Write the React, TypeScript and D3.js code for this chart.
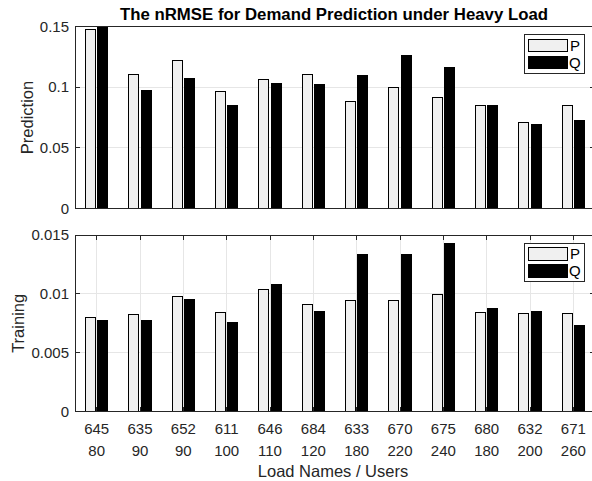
import React from "react";
import * as d3 from "d3";

const loadNames = ["645", "635", "652", "611", "646", "684", "633", "670", "675", "680", "632", "671"];
const users = ["80", "90", "90", "100", "110", "120", "180", "220", "240", "180", "200", "260"];
const predP = [0.148, 0.1107, 0.1222, 0.0966, 0.1065, 0.1104, 0.0884, 0.0999, 0.0917, 0.0851, 0.0707, 0.0853];
const predQ = [0.152, 0.0971, 0.1076, 0.0848, 0.1027, 0.1021, 0.1093, 0.1266, 0.1167, 0.0845, 0.0696, 0.0729];
const trainP = [0.00801, 0.00827, 0.00982, 0.00838, 0.01041, 0.00906, 0.00945, 0.00948, 0.00999, 0.00846, 0.00835, 0.00835];
const trainQ = [0.00776, 0.00772, 0.00951, 0.00756, 0.01081, 0.00852, 0.01336, 0.01336, 0.01424, 0.00872, 0.00849, 0.00733];
const predTicks = [0, 0.05, 0.1, 0.15];
const predTickLabels = ["0", "0.05", "0.1", "0.15"];
const trainTicks = [0, 0.005, 0.01, 0.015];
const trainTickLabels = ["0", "0.005", "0.01", "0.015"];
const seriesNames = ["P", "Q"];

const W = 592;
const H = 481;
const L = 75;
const R = 595;
const AX = "#262626";
const GRID = "#e6e6e6";
const PFILL = "#f0f0f0";
const FONT = "'Liberation Sans', Arial, Helvetica, sans-serif";

const x = d3.scaleLinear().domain([0.5, 12.5]).range([L, R]);
const barW = x(0.229) - x(0);
const off = 0.143;

function Panel({ id, top, bottom, yMax, ticks, tickLabels, pVals, qVals, label, labelX, xTicks }: any) {
  const y = d3.scaleLinear().domain([0, yMax]).range([bottom, top]);
  const idx = d3.range(loadNames.length);
  const legTop = top + 8;
  return (
    <g>
      <defs>
        <clipPath id={id}>
          <rect x={L} y={top} width={R - L} height={bottom - top} />
        </clipPath>
      </defs>
      {ticks.slice(1, -1).map((t: number) => (
        <line key={"g" + t} x1={L} x2={R} y1={y(t)} y2={y(t)} stroke={GRID} strokeWidth={1} />
      ))}
      {xTicks &&
        idx.map((i) => (
          <line key={"vg" + i} x1={x(i + 1)} x2={x(i + 1)} y1={top} y2={bottom} stroke={GRID} strokeWidth={1} />
        ))}
      <g clipPath={`url(#${id})`}>
        {idx.map((i) => (
          <g key={"b" + i}>
            <rect
              x={x(i + 1 - off) - barW / 2}
              y={y(pVals[i])}
              width={barW}
              height={bottom - y(pVals[i])}
              fill={PFILL}
              stroke="#000"
              strokeWidth={1}
            />
            <rect
              x={x(i + 1 + off) - barW / 2}
              y={y(qVals[i])}
              width={barW}
              height={bottom - y(qVals[i])}
              fill="#000"
              stroke="#000"
              strokeWidth={1}
            />
          </g>
        ))}
      </g>
      <rect x={L} y={top} width={R - L} height={bottom - top} fill="none" stroke={AX} strokeWidth={1} />
      {ticks.map((t: number, k: number) => (
        <g key={"t" + t}>
          <line x1={L} x2={L + 5} y1={y(t)} y2={y(t)} stroke={AX} />
          <line x1={R - 5} x2={R} y1={y(t)} y2={y(t)} stroke={AX} />
          <text x={L - 6} y={y(t)} dy="0.35em" textAnchor="end" fontSize={15} fill={AX} fontFamily={FONT}>
            {tickLabels[k]}
          </text>
        </g>
      ))}
      {xTicks &&
        idx.map((i) => (
          <g key={"xt" + i}>
            <line x1={x(i + 1)} x2={x(i + 1)} y1={bottom} y2={bottom - 5} stroke={AX} />
            <line x1={x(i + 1)} x2={x(i + 1)} y1={top} y2={top + 5} stroke={AX} />
            <text x={x(i + 1)} y={bottom + 22} textAnchor="middle" fontSize={15} fill={AX} fontFamily={FONT}>
              {loadNames[i]}
            </text>
            <text x={x(i + 1)} y={bottom + 44} textAnchor="middle" fontSize={15} fill={AX} fontFamily={FONT}>
              {users[i]}
            </text>
          </g>
        ))}
      <text
        transform={`translate(${labelX},${(top + bottom) / 2}) rotate(-90)`}
        dy="0.35em"
        textAnchor="middle"
        fontSize={16.5}
        fill={AX}
        fontFamily={FONT}
      >
        {label}
      </text>
      <rect x={524} y={legTop} width={60} height={38.5} fill="#fff" stroke={AX} strokeWidth={1} />
      <rect x={528.5} y={legTop + 4.5} width={38.5} height={12.5} fill={PFILL} stroke="#000" strokeWidth={1} />
      <rect x={528.5} y={legTop + 21.5} width={38.5} height={12.5} fill="#000" stroke="#000" strokeWidth={1} />
      <text x={570} y={legTop + 10.75} dy="0.35em" fontSize={15} fill="#000" fontFamily={FONT}>
        {seriesNames[0]}
      </text>
      <text x={569} y={legTop + 27.75} dy="0.35em" fontSize={15} fill="#000" fontFamily={FONT}>
        {seriesNames[1]}
      </text>
    </g>
  );
}

export default function App() {
  return (
    <svg
      width={W}
      height={H}
      style={{ position: "absolute", left: 0, top: 0, background: "#fff" }}
      shapeRendering="crispEdges"
    >
      <rect x={0} y={0} width={W} height={H} fill="#fff" />
      <text
        x={334}
        y={20}
        textAnchor="middle"
        fontSize={16.8}
        fontWeight="bold"
        fill="#000"
        fontFamily={FONT}
      >
        The nRMSE for Demand Prediction under Heavy Load
      </text>
      <Panel
        id="clipTop"
        top={26.7}
        bottom={208.3}
        yMax={0.15}
        ticks={predTicks}
        tickLabels={predTickLabels}
        pVals={predP}
        qVals={predQ}
        label="Prediction"
        labelX={27}
        xTicks={false}
      />
      <Panel
        id="clipBot"
        top={235}
        bottom={411.7}
        yMax={0.015}
        ticks={trainTicks}
        tickLabels={trainTickLabels}
        pVals={trainP}
        qVals={trainQ}
        label="Training"
        labelX={18.5}
        xTicks={true}
      />
      <text x={333} y={477} textAnchor="middle" fontSize={16.5} fill={AX} fontFamily={FONT}>
        Load Names / Users
      </text>
    </svg>
  );
}
